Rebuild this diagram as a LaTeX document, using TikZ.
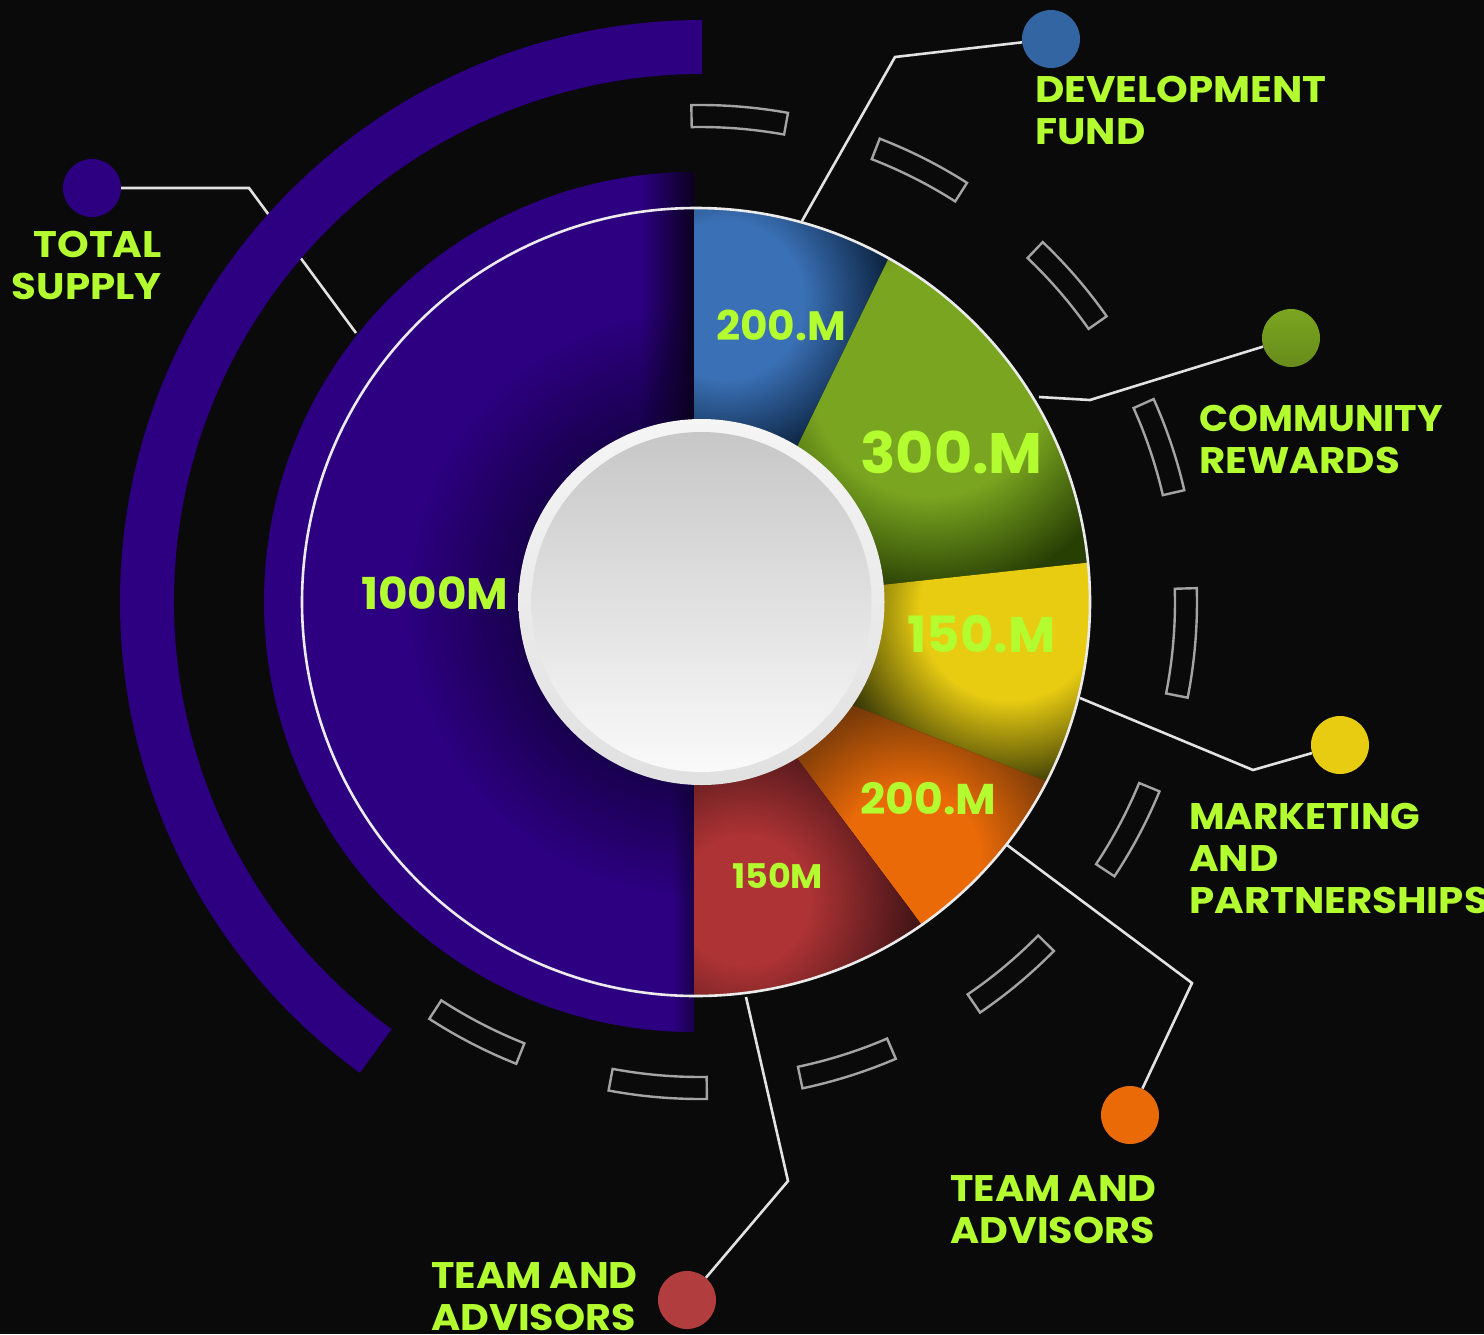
\documentclass[tikz,border=0pt]{standalone}
\usepackage{fontspec}
\setmainfont{Poppins}
\newfontfamily\labfam[FakeStretch=1.09]{Poppins}
\newfontfamily\labfamC[FakeStretch=1.03]{Poppins}
\newfontfamily\labfamM[FakeStretch=1.05]{Poppins}
\newfontfamily\labfamT[FakeStretch=1.07]{Poppins}
\newfontfamily\valfam[FakeStretch=1.03]{Poppins}
\usetikzlibrary{fadings}
\definecolor{bgk}{HTML}{0A0A0A}
\definecolor{lime}{HTML}{B2FC2F}
\definecolor{purp}{HTML}{2D0082}
\definecolor{dpurp}{HTML}{18004C}
\definecolor{cblue}{HTML}{3A70B5}
\definecolor{dblue}{HTML}{0C2340}
\definecolor{cgreen}{HTML}{7AA520}
\definecolor{dgreen}{HTML}{283F04}
\definecolor{cyel}{HTML}{E8CC12}
\definecolor{dyel}{HTML}{3A3A06}
\definecolor{cora}{HTML}{EA6A08}
\definecolor{dora}{HTML}{6A3408}
\definecolor{cred}{HTML}{AE3334}
\definecolor{dred}{HTML}{451518}
\definecolor{wire}{HTML}{E2E2E2}
\definecolor{segc}{HTML}{A4A4A4}
\pgfdeclareradialshading{sblue}{\pgfpoint{0bp}{0bp}}{color(0bp)=(cblue); color(12bp)=(cblue); color(25bp)=(dblue); color(50bp)=(dblue)}
\pgfdeclareradialshading{sgreen}{\pgfpoint{0bp}{0bp}}{color(0bp)=(cgreen); color(13.5bp)=(cgreen); color(25bp)=(dgreen); color(50bp)=(dgreen)}
\pgfdeclareradialshading{syel}{\pgfpoint{0bp}{0bp}}{color(0bp)=(cyel); color(12.5bp)=(cyel); color(25bp)=(dyel); color(50bp)=(dyel)}
\pgfdeclareradialshading{sora}{\pgfpoint{0bp}{0bp}}{color(0bp)=(cora); color(10.3bp)=(cora); color(25bp)=(dora); color(50bp)=(dora)}
\pgfdeclareradialshading{sred}{\pgfpoint{0bp}{0bp}}{color(0bp)=(cred); color(9.5bp)=(cred); color(25bp)=(dred); color(50bp)=(dred)}
\pgfdeclareradialshading{spurp}{\pgfpoint{0bp}{0bp}}{color(0bp)=(dpurp); color(15bp)=(dpurp); color(25bp)=(purp); color(50bp)=(purp)}
\tikzset{
  lab/.style={text=lime,inner sep=0pt,align=left,font=\labfam\fontsize{37}{42}\selectfont\bfseries},
  val/.style={text=lime,inner sep=0pt,anchor=base west},
  dotn/.style={circle,minimum size=58pt,inner sep=0pt,draw=none},
  wirel/.style={draw=wire,line width=2.6pt},
  segm/.style={draw=segc,line width=2.4pt},
}
\newcommand{\pieseg}[2]{\draw[segm] (#1:497pt) arc[start angle=#1,end angle=#2,radius=497pt] -- (#2:475pt) arc[start angle=#2,end angle=#1,radius=475pt] -- cycle;}
\newcommand{\wedgefill}[6]{% polygon, shading, base, cx, cy, r
  \begin{scope}
    \clip #1;
    \fill[#3] (400,100) rectangle (1300,1200);
    \shade[shading=#2] (#4,#5) circle[radius=#6pt];
  \end{scope}}
\begin{document}
\begin{tikzpicture}[x=1pt,y=-1pt]
\fill[bgk] (0,0) rectangle (1484,1334);
\useasboundingbox (0,0) rectangle (1484,1334);

% dots
\node[dotn,fill=purp] (dA) at (92,188) {};
\node[dotn,fill=cblue!90!black] (dB) at (1051,39) {};
\node[dotn,top color=cgreen,bottom color=cgreen!85!black] (dC) at (1291,338) {};
\node[dotn,fill=cyel] (dD) at (1340,745) {};
\node[dotn,fill=cora] (dE) at (1130,1115) {};
\node[dotn,fill=cred!95!white] (dF) at (687,1300) {};

% connector bends and free ends
\coordinate (bA) at (249,188); \coordinate (eA) at (356,333);
\coordinate (bB) at (895,57);  \coordinate (eB) at (802,221);
\coordinate (bC) at (1090,400);\coordinate (eC) at (1039,397);
\coordinate (bD) at (1253,770);\coordinate (eD) at (1080,698);
\coordinate (bE) at (1192,983);\coordinate (eE) at (1007,845);
\coordinate (bF) at (788,1181);\coordinate (eF) at (746,997);
\draw[wirel] (dA) -- (bA) -- (eA);
\draw[wirel] (dB) -- (bB) -- (eB);
\draw[wirel] (dC) -- (bC) -- (eC);
\draw[wirel] (dD) -- (bD) -- (eD);
\draw[wirel] (dE) -- (bE) -- (eE);
\draw[wirel] (dF) -- (bF) -- (eF);

% outer purple arc
\begin{scope}[shift={(702,602)}]
\fill[purp] (90:582pt) arc[start angle=90,end angle=234,radius=582pt] -- (234:528pt) arc[start angle=234,end angle=90,radius=528pt] -- cycle;
\end{scope}

% outlined segments
\begin{scope}[shift={(700,602)}]
\pieseg{91}{79.8}
\pieseg{68.8}{57.5}
\pieseg{46.4}{35.1}
\pieseg{24.1}{13}
\pieseg{1.6}{-11.1}
\pieseg{-22.4}{-33.5}
\pieseg{-44.6}{-55.7}
\pieseg{-66.8}{-78.1}
\pieseg{-89.2}{-100.6}
\pieseg{-111.7}{-123}
\end{scope}

% purple half disc
\begin{scope}
  \clip (694,100) rectangle (200,1100);
  \clip (694,602) circle[radius=430pt];
  \fill[purp] (100,100) rectangle (800,1100);
  \shade[shading=spurp] (702,602) circle[radius=300pt];
  \fill[black!75!purp,path fading=west] (640,165) rectangle (694,430);
  \fill[black!60!purp,opacity=.7,path fading=west] (672,785) rectangle (694,1040);
\end{scope}

% wedges
\begin{scope}
  \clip (696,602) circle[radius=394pt];
  \wedgefill{(694,602) -- (694,150) -- (933,167) -- (762,519) -- cycle}{sblue}{dblue}{725}{300}{165}
  \wedgefill{(762,519) -- (933,167) -- (1200,300) -- (1140,557) -- (780,596) -- cycle}{sgreen}{dgreen}{930}{380}{215}
  \wedgefill{(780,596) -- (1140,557) -- (1200,700) -- (1120,810) -- (780,677) -- cycle}{syel}{dyel}{1010}{610}{180}
  \wedgefill{(780,677) -- (1120,810) -- (960,976) -- (760,709) -- cycle}{sora}{dora}{910}{860}{170}
  \wedgefill{(760,709) -- (960,976) -- (800,1100) -- (694,1100) -- (694,602) -- cycle}{sred}{dred}{745}{900}{170}
\end{scope}
\draw[draw=white!92!black,line width=2.6pt] (696,602) circle[radius=394pt];

% hub
\shade[top color=white!96!black,bottom color=white!88!black] (701.5,602) circle[radius=183pt];
\shade[top color=white!78!black,bottom color=white!98!black] (701.5,602) circle[radius=170pt];

% value labels
\node[val,font=\valfam\fontsize{41}{41}\selectfont\bfseries] (v1) at (716,340) {200.M};
\node[val,font=\valfam\fontsize{57}{57}\selectfont\bfseries] (v2) at (860,473) {300.M};
\node[val,font=\valfam\fontsize{50}{50}\selectfont\bfseries] (v3) at (907,652) {150.M};
\node[val,font=\valfam\fontsize{43}{43}\selectfont\bfseries] (v4) at (860,814) {200.M};
\node[val,font=\valfam\fontsize{34}{34}\selectfont\bfseries] (v5) at (732,888) {150M};
\node[val,font=\valfam\fontsize{44}{44}\selectfont\bfseries] (v6) at (361,609) {1000M};

% category labels
\node[lab,align=right,anchor=east] (tA) at (162,265) {TOTAL\\SUPPLY};
\node[lab,anchor=west] (tB) at (1035,110) {DEVELOPMENT\\FUND};
\node[lab,anchor=west] (tC) at (1199,439) {{\labfamC\bfseries COMMUNITY}\\REWARDS};
\node[lab,anchor=west] (tD) at (1189,858) {{\labfamM\bfseries MARKETING}\\AND\\PARTNERSHIPS};
\node[lab,anchor=west] (tE) at (950,1210) {{\labfamT\bfseries TEAM AND}\\{\labfamT\bfseries ADVISORS}};
\node[lab,anchor=west] (tF) at (431,1297) {{\labfamT\bfseries TEAM AND}\\{\labfamT\bfseries ADVISORS}};
\end{tikzpicture}
\end{document}
